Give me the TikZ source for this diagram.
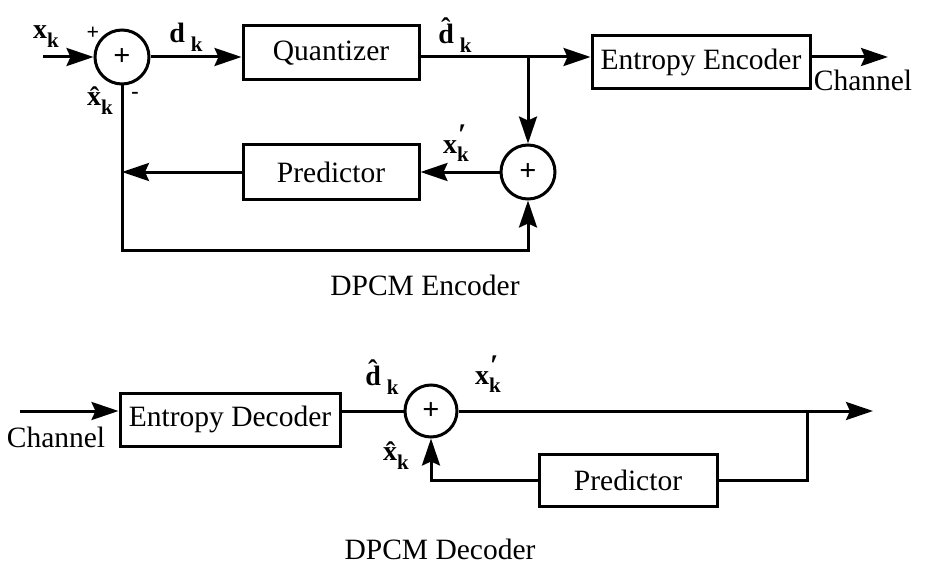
\documentclass[tikz,border=0pt]{standalone}
\usepackage{fontspec}
\setmainfont{Liberation Serif}
\usetikzlibrary{arrows.meta}

% subscript and prime-over-subscript helpers for the signal labels
\newcommand\lsub[1]{\raisebox{-0.32em}{\fontsize{21}{21}\selectfont #1}}
\newcommand\lprsub[1]{\raisebox{-0.30em}{\fontsize{21}{14}\selectfont\shortstack[l]{\kern1pt{\fontsize{30}{14}\selectfont ′}\\#1}}}

\begin{document}
\begin{tikzpicture}[x=1pt,y=-1pt,line width=3pt,
  blk/.style={draw,rectangle,inner sep=0pt,font=\fontsize{29.5}{32}\selectfont},
  sumnode/.style={draw,circle,inner sep=0pt,minimum size=54pt,font=\fontsize{30}{30}\selectfont\bfseries},
  lbl/.style={inner sep=0pt,font=\fontsize{28}{30}\selectfont\bfseries},
  sgn/.style={inner sep=0pt,font=\fontsize{22}{22}\selectfont\bfseries},
  captext/.style={inner sep=0pt,font=\fontsize{29.5}{32}\selectfont},
  sig/.style={-{Stealth[length=27pt,width=18pt,inset=4pt]}},
]
\useasboundingbox (0,0) rectangle (929,567);

% ---------------- DPCM encoder ----------------
\node[sumnode] (s1) at (122,57) {+};
\node[blk,minimum width=176pt,minimum height=54pt] (q) at (331,53) {Quantizer};
\node[blk,minimum width=218pt,minimum height=53pt] (ee) at (701,62.5) {Entropy Encoder};
\node[sumnode] (s2) at (528,172) {+};
\node[blk,minimum width=176pt,minimum height=55pt] (pe) at (331,172) {Predictor};

\coordinate (in1) at (43,57);
\coordinate (out1) at (888,57);
\coordinate (br1) at (528,57);
\coordinate (bot) at (122,250);

\draw[sig] (in1) -- (s1);
\draw[sig] (s1) -- (s1 -| q.west);
\draw[sig] (s1 -| q.east) -- (s1 -| ee.west);
\draw[sig] (s1 -| ee.east) -- (out1);
\draw[sig] (br1) -- (s2);
\draw[sig] (s2) -- (pe);
\draw[sig] (pe.west) -- (pe.west -| s1);
\draw[sig] (s1.south) -- (bot) -- (bot -| s2) -- (s2.south);

\node[lbl] (lxk) at (46,37) {x\lsub{k}};
\node[sgn] (lplus) at (93,33) {+};
\node[sgn] (lminus) at (135,95) {-};
\node[lbl] (lxh) at (100,101) {\^{x}\lsub{k}};
\node[lbl] (ld) at (186,37) {d\kern6pt\lsub{k}};
\node[lbl] (ldh) at (455,35) {\^{d}\kern6pt\lsub{k}};
\node[lbl] (lxp) at (456,143) {x\lprsub{k}};
\node[captext] (ch1) at (863,80) {Channel};
\node[captext] (t1) at (425,285) {DPCM Encoder};

% ---------------- DPCM decoder ----------------
\node[blk,minimum width=220pt,minimum height=53pt] (ed) at (230,419.5) {Entropy Decoder};
\node[sumnode,minimum size=52pt] (s3) at (431,411) {+};
\node[blk,minimum width=178pt,minimum height=52pt] (pd) at (628,480) {Predictor};

\coordinate (in2) at (20,411);
\coordinate (out2) at (873,411);
\coordinate (br2) at (807,411);

\draw[sig] (in2) -- (in2 -| ed.west);
\draw (ed.east |- s3) -- (s3);
\draw[sig] (s3) -- (out2);
\draw (br2) |- (pd.east);
\draw[sig] (pd.west) -| (s3.south);

\node[lbl] (ldh2) at (382,377) {\^{d}\kern6pt\lsub{k}};
\node[lbl] (lxp2) at (488,374) {x\lprsub{k}};
\node[lbl] (lxh2) at (396,456) {\^{x}\lsub{k}};
\node[captext] (ch2) at (56,437) {Channel};
\node[captext] (t2) at (440,549) {DPCM Decoder};
\end{tikzpicture}
\end{document}
